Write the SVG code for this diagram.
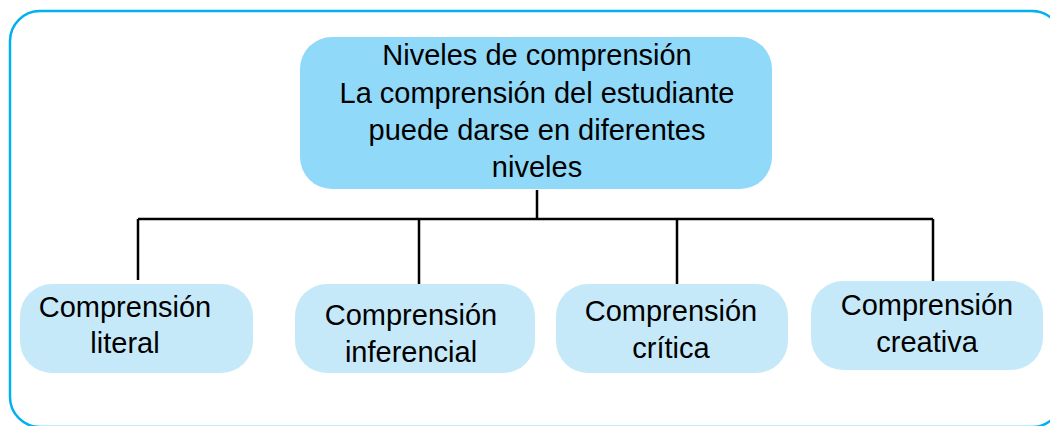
<svg xmlns="http://www.w3.org/2000/svg" width="1050" height="426" viewBox="0 0 1050 426">
<style>
.frame{fill:none;stroke:#00b0f0;stroke-width:2.5}
.top{fill:#91d9f8}
.sub{fill:#c6e9f9}
.t{font-family:"Liberation Sans",Arial,sans-serif;font-size:29px;fill:#000;text-anchor:middle}
.c{fill:none;stroke:#000;stroke-width:2.5}
</style>
<rect class="frame" x="10" y="11" width="1052" height="416" rx="30"/>
<g id="connectors">
<path class="c" d="M537 190V219M138 219H933M138 219V280M419 219V284M677 219V284M933 219V281"/>
</g>
<g id="n0">
<rect class="top" x="300" y="37" width="472" height="152" rx="32"/>
<text class="t" x="537" y="65">Niveles de comprensión</text>
<text class="t" x="537" y="103">La comprensión del estudiante</text>
<text class="t" x="537" y="140">puede darse en diferentes</text>
<text class="t" x="537" y="177">niveles</text>
</g>
<g id="n1">
<rect class="sub" x="20" y="284" width="233" height="89" rx="32"/>
<text class="t" x="125" y="317">Comprensión</text>
<text class="t" x="125" y="353">literal</text>
</g>
<g id="n2">
<rect class="sub" x="295" y="284" width="240" height="89" rx="32"/>
<text class="t" x="411" y="325">Comprensión</text>
<text class="t" x="411" y="362">inferencial</text>
</g>
<g id="n3">
<rect class="sub" x="556" y="284" width="232" height="89" rx="32"/>
<text class="t" x="671" y="321">Comprensión</text>
<text class="t" x="671" y="358">crítica</text>
</g>
<g id="n4">
<rect class="sub" x="811" y="281" width="232" height="89" rx="32"/>
<text class="t" x="927" y="315">Comprensión</text>
<text class="t" x="927" y="352">creativa</text>
</g>
</svg>
